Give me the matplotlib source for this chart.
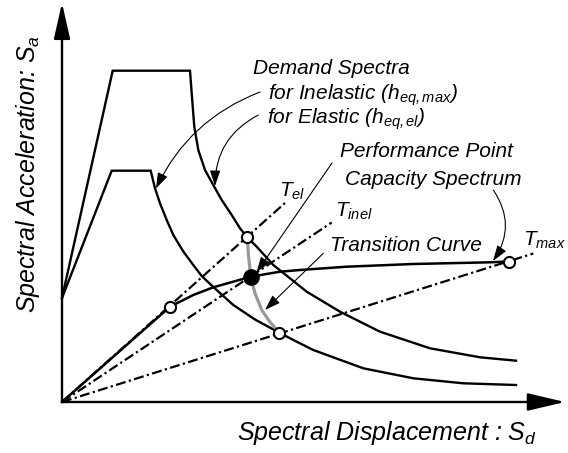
import matplotlib.pyplot as plt
from matplotlib.patches import FancyArrowPatch

plt.rcParams["font.family"] = ["Liberation Sans", "DejaVu Sans"]
plt.rcParams["font.style"] = "italic"
plt.rcParams["mathtext.fontset"] = "custom"
plt.rcParams["mathtext.it"] = "Liberation Sans:italic"
plt.rcParams["mathtext.rm"] = "Liberation Sans:italic"
plt.rcParams["mathtext.sf"] = "Liberation Sans:italic"
plt.rcParams["lines.scale_dashes"] = False

# schematic values (Sd, Sa), arbitrary units
elastic_sd = [0, 50.7, 128, 129.7, 132.3, 136.3, 143, 151.3, 159.7, 169.7, 178,
              185.3, 194.7, 211.3, 228, 244.7, 278, 318, 368, 418, 454]
elastic_sa = [104, 331.3, 331.3, 308.7, 275.3, 252, 232, 217, 202, 187, 173.7,
              164.7, 155.3, 137, 123.7, 110.3, 90.3, 70.3, 53.7, 44.7, 41.3]

inelastic_sd = [0, 49.7, 88.7, 93, 98, 104.7, 111.3, 121.3, 131.3, 139.7, 151.3,
                171.3, 193, 217.3, 234.7, 251.3, 301.3, 351.3, 401.3, 454]
inelastic_sa = [104, 231.3, 231.3, 213.7, 198.7, 182, 167, 150.5, 137, 126, 115,
                97, 82.5, 69.3, 60.3, 52, 33.7, 23.7, 18.7, 17]

capacity_sd = [0, 108, 131.3, 151.3, 174.7, 188.7, 218, 238, 284.7, 351.3, 428, 447.3]
capacity_sa = [0, 95.3, 107, 114.7, 121.3, 125.3, 130.3, 132, 135.3, 138, 139.7, 140.5]

transition_sd = [185.3, 186.3, 188.7, 193, 199.7, 208, 217.3]
transition_sa = [164.7, 148.7, 125.3, 108.7, 92, 80, 69.3]

# period lines from the origin: name -> end point
period_lines = {
    "el": (223, 199),
    "inel": (269.7, 179.5),
    "max": (471.3, 148.5),
}

open_pts_sd = [108, 185.3, 217.3, 447.3]
open_pts_sa = [95.3, 164.7, 69.3, 140.5]
perf_sd, perf_sa = 188.7, 125.3

fig = plt.figure(figsize=(5.68, 4.53), dpi=100)
ax = fig.add_axes([0, 0, 1, 1])
ax.set_xlim(-62, 506)
ax.set_ylim(-51, 402)
ax.axis("off")

# axes with arrow heads
for end, hl, hw in [((0, 399), 22, 5), ((503, 0), 23, 5.4)]:
    ax.add_patch(FancyArrowPatch(
        (0, 0), end,
        arrowstyle=f"-|>,head_length={hl},head_width={hw}",
        mutation_scale=1, lw=1.7, color="black",
        shrinkA=0, shrinkB=0, zorder=3,
    ))

dash_dot = (7.2, 2.4, 1.6, 2.4)
for name, (sd, sa) in period_lines.items():
    ax.plot([0, sd], [0, sa], color="black", lw=1.6, dashes=dash_dot,
            dash_capstyle="butt", zorder=1)

ax.plot(elastic_sd, elastic_sa, color="black", lw=1.7, solid_joinstyle="miter", zorder=2)
ax.plot(inelastic_sd, inelastic_sa, color="black", lw=1.7, solid_joinstyle="miter", zorder=2)
ax.plot(capacity_sd, capacity_sa, color="black", lw=1.8, zorder=2)
ax.plot(transition_sd, transition_sa, color="#999999", lw=2.3, zorder=2.5)

ax.plot(open_pts_sd, open_pts_sa, "o", ms=8, mfc="white", mec="black", mew=1.5, zorder=5)
ax.plot(perf_sd, perf_sa, "o", ms=11, color="black", zorder=5)

# text labels
fs = 15
ax.text(191.3, 328, "Demand Spectra", fontsize=fs)
ax.text(206.3, 302, "for Inelastic ($h_{eq,max}$)", fontsize=fs)
ax.text(204.7, 278.5, "for Elastic ($h_{eq,el}$)", fontsize=fs)
ax.text(278, 245.3, "Performance Point", fontsize=fs)
ax.text(283, 217, "Capacity Spectrum", fontsize=fs)
ax.text(268, 151.3, "Transition Curve", fontsize=fs)
ax.text(217.3, 205.3, "$T_{el}$", fontsize=fs)
ax.text(273, 185.3, "$T_{inel}$", fontsize=fs)
ax.text(461.3, 156, "$T_{max}$", fontsize=fs)

ax.text(-27, 89, "Spectral Acceleration: $S_a$", fontsize=18, rotation=90,
        rotation_mode="anchor", ha="left", va="baseline")
ax.text(174.7, -38, "Spectral Displacement : $S_d$", fontsize=18,
        ha="left", va="baseline")

# leader arrows: start, end, curvature
leaders = [
    ((198, 310), (94, 213.5), 0.2),
    ((196.3, 287), (153, 216), 0.3),
    ((270, 239), (194.5, 129.5), 0.0),
    ((431.3, 212), (431, 141), -0.34),
    ((261.3, 148.7), (203, 92), 0.0),
]
for start, end, rad in leaders:
    ax.add_patch(FancyArrowPatch(
        start, end,
        arrowstyle="-|>,head_length=9.5,head_width=3.2",
        connectionstyle=f"arc3,rad={rad}",
        mutation_scale=1, lw=0.8, color="black",
        shrinkA=0, shrinkB=0, zorder=6,
    ))

fig.savefig("out.png", dpi=100)
